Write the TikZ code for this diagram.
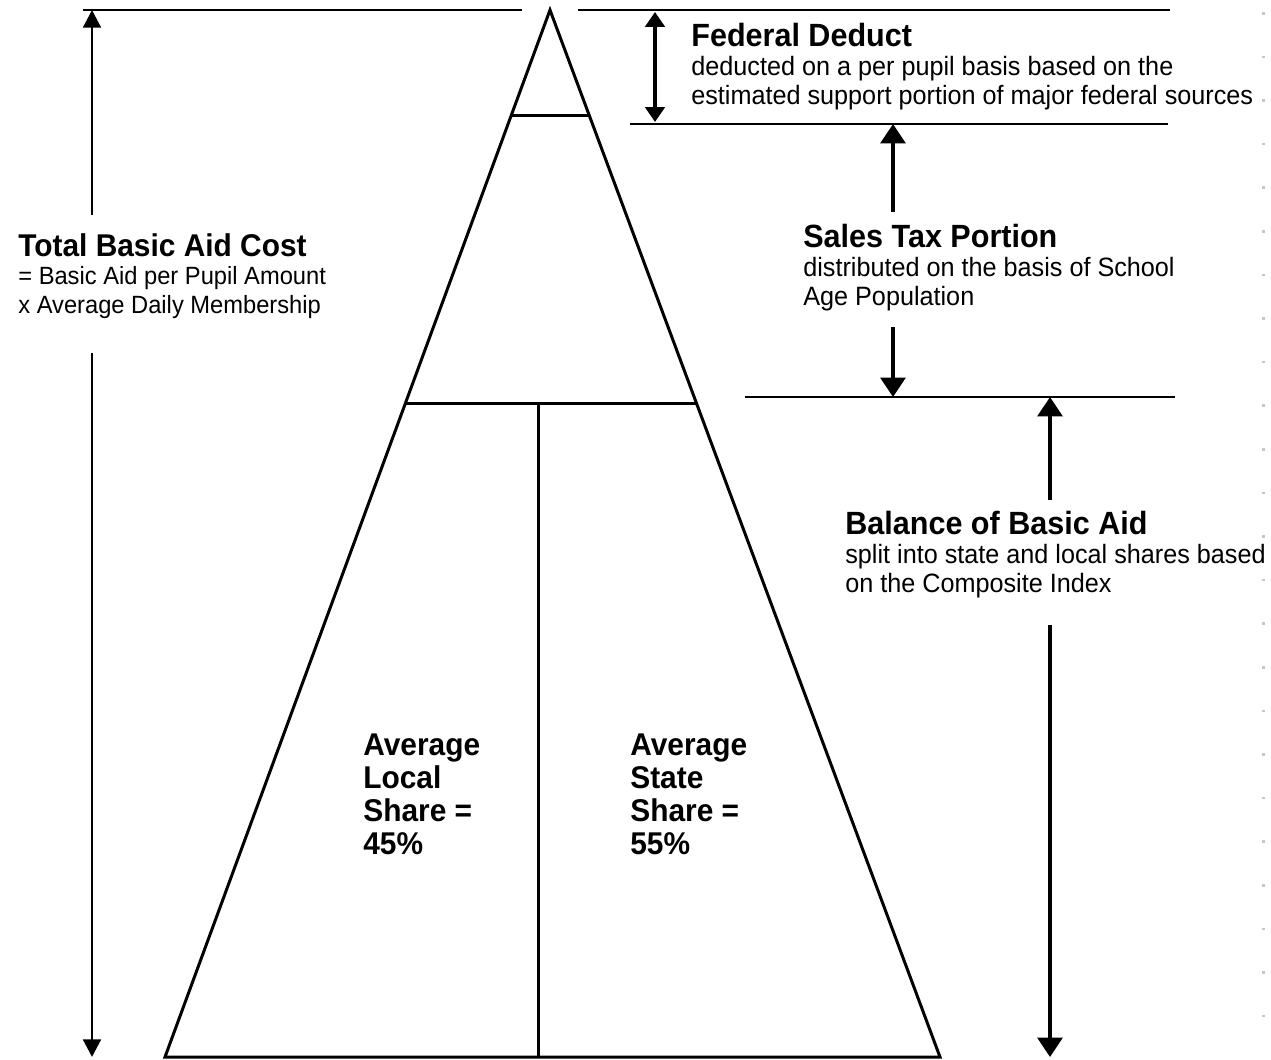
\documentclass[tikz,border=0pt]{standalone}
\usepackage{fontspec}
\setmainfont{Liberation Sans}[FakeStretch=0.95]
\usetikzlibrary{calc,arrows.meta,positioning}
\newcommand{\headfont}{\fontsize{17.9}{20}\selectfont\bfseries}
\newcommand{\sideheadfont}{\fontsize{18.3}{20}\selectfont\bfseries}
\tikzset{
  guide/.style={line width=0.95pt},
  pyramid/.style={line width=1.7pt, line join=miter},
  bigarrow/.style={line width=2.3pt, -{Triangle[length=11pt,width=14pt]}},
  slimarrow/.style={line width=1.7pt, -{Triangle[length=10pt,width=10pt]}},
  fedarrow/.style={line width=2.3pt, {Triangle[length=8.5pt,width=11pt]}-{Triangle[length=8.5pt,width=11pt]}},
  blurb/.style={anchor=north west, inner sep=0pt, align=left, font=\fontsize{14.2}{16.4}\selectfont},
  sideblurb/.style={blurb, font=\fontsize{15.1}{16.4}\selectfont},
  sharetxt/.style={anchor=north west, inner sep=0pt, align=left, font=\fontsize{17.9}{18.8}\selectfont\bfseries}
}
\begin{document}
\begin{tikzpicture}[x=0.02cm, y=-0.02cm]
\useasboundingbox (0,0) rectangle (1271,1059);

% pyramid
\coordinate (apex) at (550,10);
\coordinate (bl) at (165,1057);
\coordinate (br) at (940,1057);
\draw[pyramid] (apex) -- (bl) -- (br) -- cycle;
\draw[pyramid] ($(apex)!0.1003!(bl)$) -- ($(apex)!0.1003!(br)$);
\draw[pyramid] ($(apex)!0.3763!(bl)$) coordinate (splitL) -- ($(apex)!0.3763!(br)$);
\draw[pyramid] (538,404) -- (538,1057);

% guide lines
\coordinate (topA) at (83,10);
\coordinate (topB) at (522,10);
\coordinate (topC) at (578,10);
\coordinate (topD) at (1170,10);
\coordinate (fedA) at (630,124);
\coordinate (fedB) at (1168,124);
\coordinate (salesA) at (745,397);
\coordinate (salesB) at (1175,397);
\draw[guide] (topA) -- (topB);
\draw[guide] (topC) -- (topD);
\draw[guide] (fedA) -- (fedB);
\draw[guide] (salesA) -- (salesB);

% texts
\node[blurb] (totaltxt) at (18,233) {{\headfont Total Basic Aid Cost}\\
= Basic Aid per Pupil Amount\\ x Average Daily Membership};
\node[sideblurb] (fedtxt) at (691,23) {{\sideheadfont Federal Deduct}\\
deducted on a per pupil basis based on the\\ estimated support portion of major federal sources};
\node[sideblurb] (salestxt) at (803,224) {{\sideheadfont Sales Tax Portion}\\
distributed on the basis of School\\ Age Population};
\node[sideblurb] (baltxt) at (845,511) {{\sideheadfont Balance of Basic Aid}\\
split into state and local shares based\\ on the Composite Index};
\node[sharetxt] (localtxt) at (363,733) {Average\\ Local\\ Share =\\ 45\%};
\node[sharetxt] (statetxt) at (630,733) {Average\\ State\\ Share =\\ 55\%};

% arrows
\coordinate (tbUp) at (92,215);
\coordinate (tbDown) at (92,353);
\draw[slimarrow] (tbUp) -- (92,10);
\draw[slimarrow] (tbDown) -- (92,1057);
\draw[fedarrow] (655,12) -- (655,122);
\coordinate (stUp) at (893,212);
\coordinate (stDown) at (893,327);
\draw[bigarrow] (stUp) -- (893,124);
\draw[bigarrow] (stDown) -- (893,397);
\coordinate (baUp) at (1050,500);
\coordinate (baDown) at (1050,625);
\draw[bigarrow] (baUp) -- (1050,397);
\draw[bigarrow] (baDown) -- (1050,1057);

% page edge marks
\foreach \k in {0,...,23}
  \fill[gray!45] (1262,{12+43.6*\k}) rectangle +(2.5,2.5);
\end{tikzpicture}
\end{document}
